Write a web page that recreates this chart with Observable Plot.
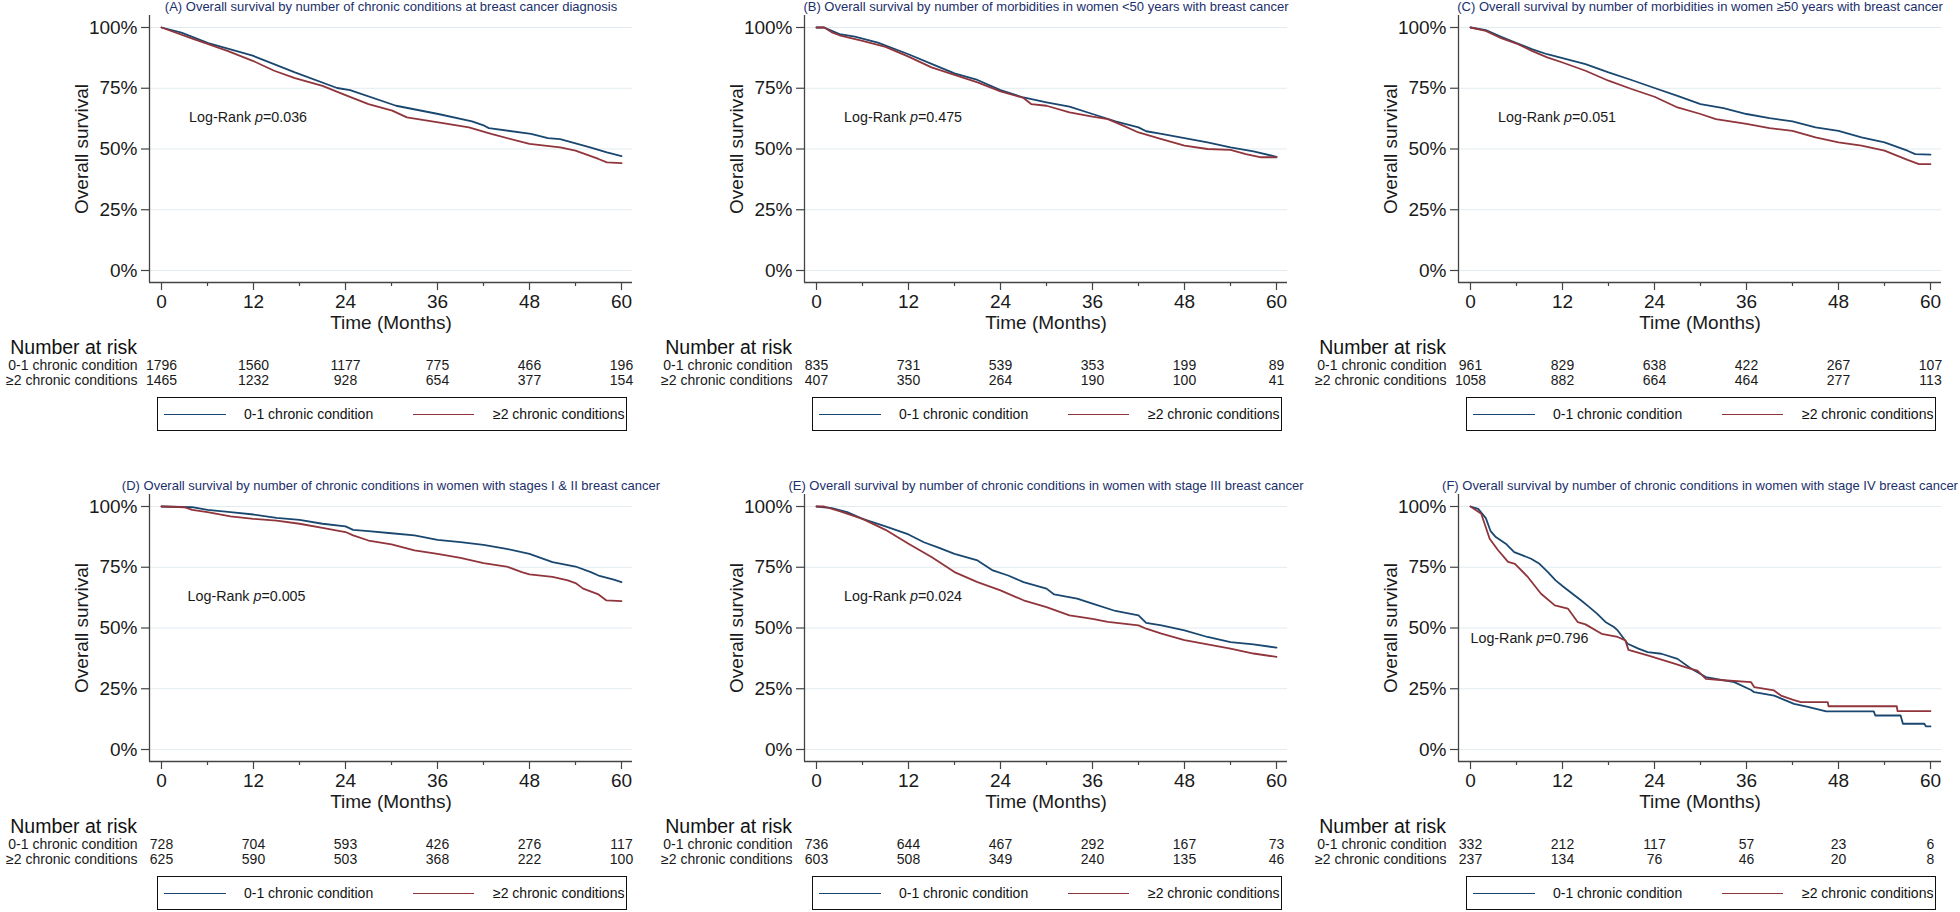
<!DOCTYPE html>
<html>
<head>
<meta charset="utf-8">
<script src="https://cdn.jsdelivr.net/npm/d3@7"></script>
<script src="https://cdn.jsdelivr.net/npm/@observablehq/plot@0.6"></script>
<style>
  html, body { margin: 0; padding: 0; background: #fff; }
  body { font-family: "Liberation Sans", Arial, sans-serif; }
  #fig { position: relative; width: 1960px; height: 912px; overflow: hidden; background: #fff; }
  .panel { position: absolute; width: 650px; height: 479px; }
  .title { position: absolute; top: 0; left: 391px; transform: translateX(-50%); white-space: nowrap;
           font-size: 13px; line-height: 13px; color: #1b2f6b; z-index: 2; }
  .mainplot { position: absolute; left: 0; top: 0; width: 650px; }
  .riskhead { position: absolute; right: 513px; top: 337px; font-size: 19.5px; line-height: 20px; color: #111; white-space: nowrap; }
  .riskplot { position: absolute; left: 0; top: 355px; width: 650px; }
  .legend { position: absolute; left: 157px; top: 397px; width: 470px; height: 34px; box-sizing: border-box;
            border: 1.4px solid #111; background: #fff; }
  .legend .ln { position: absolute; top: 15.5px; height: 0; border-top: 1.8px solid; }
  .legend .lt { position: absolute; top: 8px; font-size: 14px; line-height: 17px; color: #111; white-space: nowrap; }
</style>
</head>
<body>
<div id="fig"></div>
<script>
// ---------------- data ----------------
const groups = ["0-1 chronic condition", "\u22652 chronic conditions"];
const groupColors = ["#1a476f", "#90353b"];
const xTicks = [0, 12, 24, 36, 48, 60];
const xMinor = [6, 18, 30, 42, 54];
const yTicks = [0, 0.25, 0.5, 0.75, 1];

const titles = [
  "(A) Overall survival by number of chronic conditions at breast cancer diagnosis",
  "(B) Overall survival by number of morbidities in women <50 years with breast cancer",
  "(C) Overall survival by number of morbidities in women \u226550 years with breast cancer",
  "(D) Overall survival by number of chronic conditions in women with stages I & II breast cancer",
  "(E) Overall survival by number of chronic conditions in women with stage III breast cancer",
  "(F) Overall survival by number of chronic conditions in women with stage IV breast cancer"
];
const pValues = ["0.036", "0.475", "0.051", "0.005", "0.024", "0.796"];
// annotation anchor in data units [months, survival %]
const pAnchor = [[3.6, 63], [3.6, 63], [3.6, 63], [3.4, 63], [3.6, 63], [0, 45.7]];

// survival curves: [month, survival %]
const A_low = [[0,100],[2.6,97.9],[6.1,93.6],[11.9,88.4],[17.4,81.5],[22.9,75.1],[24.6,74.2],[30.6,67.8],[36.1,64.4],[40.5,61.4],[42.1,59.6],[42.7,58.6],[48.2,56.2],[50.4,54.5],[52,54.1],[55.9,50.7],[58.1,48.6],[60,47.1]];
const A_high = [[0,100],[4.2,95.2],[6.1,93.2],[8.6,90.4],[11.9,86.3],[14.7,82.2],[17.4,79.2],[21,76],[24,72.2],[27,68.5],[30.1,65.8],[32,63],[36.1,61],[40.1,58.9],[43,56.2],[48,52.1],[52,50.7],[54,49.3],[57,45.9],[58.1,44.5],[60,44.2]];
const B_low = [[0,100],[1,100],[3,97.3],[5,96.2],[8,93.8],[12,89],[15,85],[18,81.1],[21,78.4],[24,74.2],[27,71.2],[30,69.2],[33,67.4],[36,64.4],[39,61.4],[42,58.9],[43,57.3],[45,56.2],[48,54.5],[51,52.7],[54,50.7],[57,49],[60,46.8]];
const B_high = [[0,100],[1,100],[2,98],[3,96.8],[6,94.5],[9,92],[12,88],[15,83.6],[18,80.5],[21,77.4],[24,73.7],[27,71],[28,68.5],[30,67.8],[33,65.1],[36,63.3],[38,62.3],[40,59.6],[42,56.8],[45,54.1],[48,51.4],[51,50],[54,49.6],[56,47.9],[58,46.6],[60,46.6]];
const C_low = [[0,100],[2,98.9],[4,96.2],[6,93.6],[8,91.1],[10,89],[12,87.4],[15,84.9],[18,81.5],[21,78.4],[24,75.1],[27,71.9],[30,68.5],[33,66.8],[36,64.4],[39,62.7],[42,61.4],[45,58.9],[48,57.5],[51,54.8],[54,52.7],[57,49.3],[58,47.9],[60,47.7]];
const C_high = [[0,100],[2,98.6],[4,95.6],[6,93.4],[8,90.4],[10,87.7],[12,85.6],[15,82.2],[18,78.1],[21,74.7],[24,71.5],[27,67.1],[30,64.4],[32,62.3],[36,60.3],[39,58.6],[42,57.5],[45,54.8],[48,52.7],[51,51.4],[54,49.3],[57,45.5],[58.5,43.8],[60,43.8]];
const D_low = [[0,100],[4,99.7],[6,98.6],[9,97.7],[12,96.7],[15,95.3],[18,94.5],[21,92.9],[24,91.8],[25,90.4],[27,89.9],[30,89],[33,88.1],[36,86.3],[39,85.3],[42,84.2],[45,82.6],[48,80.5],[51,77.1],[54,75.3],[56,73],[57,71.6],[59,69.9],[60,68.9]];
const D_high = [[0,100],[3,99.7],[4,98.6],[6,97.7],[9,95.9],[12,94.9],[15,94.2],[18,92.9],[21,91.2],[24,89.5],[25,88.1],[27,86],[30,84.4],[33,81.9],[36,80.5],[39,78.9],[42,76.7],[45,75.3],[47,73],[48,72.1],[51,71],[53,69.6],[54,68.5],[55,66.2],[57,63.8],[58,61.4],[60,61.1]];
const E_low = [[0,100],[2,99.3],[4,97.7],[6,94.9],[9,91.8],[12,88.5],[14,85.3],[16,83],[18,80.5],[21,77.8],[23,73.7],[25,71.6],[27,68.9],[30,66.2],[31,63.8],[34,62.1],[36,60],[39,57],[42,55.2],[43,52.1],[45,51.1],[48,49],[51,46.3],[54,44.2],[57,43.3],[60,41.9]];
const E_high = [[0,100],[1,100],[3,98.1],[6,94.9],[9,90.4],[12,84.7],[15,79.2],[18,73],[21,68.9],[24,65.5],[27,61.4],[30,58.6],[33,55.2],[36,53.8],[38,52.5],[42,51.1],[43,49.7],[45,47.7],[48,45],[51,43.3],[54,41.5],[57,39.5],[60,38.1]];
const F_low = [[0,100],[1,99],[2,95.2],[2.6,90],[3.3,87.4],[4.6,84.7],[5.7,81.2],[6.8,79.9],[7.9,78.5],[9,76.4],[10.1,73],[11.1,69.6],[12.2,66.8],[13.3,64.1],[14.4,61.4],[15.5,58.6],[16.5,55.9],[17.6,52.5],[18.7,50.4],[19.2,49],[20.5,43.5],[21.9,41.5],[23.1,40.1],[24.9,39.4],[27,37.3],[28.8,33.2],[30.7,29.8],[34.4,27.7],[36.6,24.5],[37,23.6],[39.6,22.2],[42.2,18.8],[44,17.5],[46.4,15.7],[52.6,15.7],[52.8,14],[56.1,14],[56.4,10.6],[59.2,10.6],[59.4,9.5],[60,9.5]];
const F_high = [[0,100],[1.4,97],[2.5,86.7],[3.6,82],[4.9,77.2],[5.8,76.4],[7.5,70.9],[9.2,64.1],[11,59.3],[12.7,58],[14,52.4],[15,51.5],[17.1,47.6],[19.2,46.3],[20.2,44.9],[20.6,41],[23.1,38.7],[26.6,35.3],[28.3,33.6],[29.6,32.5],[30.7,29.1],[33,28.5],[36.6,27.7],[37,25.7],[39.6,24.3],[40.5,22.2],[42,20.5],[43.1,19.5],[46.6,19.5],[46.7,17.8],[55.6,17.8],[55.7,15.8],[60,15.8]];

// numbers at risk at months 0, 12, 24, 36, 48, 60
const A_risk = [[1796,1560,1177,775,466,196],[1465,1232,928,654,377,154]];
const B_risk = [[835,731,539,353,199,89],[407,350,264,190,100,41]];
const C_risk = [[961,829,638,422,267,107],[1058,882,664,464,277,113]];
const D_risk = [[728,704,593,426,276,117],[625,590,503,368,222,100]];
const E_risk = [[736,644,467,292,167,73],[603,508,349,240,135,46]];
const F_risk = [[332,212,117,57,23,6],[237,134,76,46,20,8]];

const curves = [[A_low, A_high],[B_low, B_high],[C_low, C_high],[D_low, D_high],[E_low, E_high],[F_low, F_high]];
const risks = [A_risk, B_risk, C_risk, D_risk, E_risk, F_risk];

// ---------------- layout ----------------
const panelPos = [[0,0],[655,0],[1309,0],[0,479],[655,479],[1309,479]];
const W = 650, H = 335;
const frameL = 149, frameR = 632, frameT = 15, frameB = 282;
const dataX0 = 161, dataX1 = 621, dataYTop = 27, dataYBot = 270;
const pxPerMonth = (dataX1 - dataX0) / 60;
const pxPerUnit = dataYBot - dataYTop;
const xDomain = [-(dataX0 - frameL) / pxPerMonth, 60 + (frameR - dataX1) / pxPerMonth];
const yDomain = [-(frameB - dataYBot) / pxPerUnit, 1 + (dataYTop - frameT) / pxPerUnit];
const FONT = '"Liberation Sans", Arial, sans-serif';
const axisColor = "#444";
const LR_WIDTH = 118; // reference width of the Log-Rank label

const fig = document.getElementById("fig");

curves.forEach((pair, i) => {
  const panel = document.createElement("div");
  panel.className = "panel";
  panel.style.left = panelPos[i][0] + "px";
  panel.style.top = panelPos[i][1] + "px";
  fig.appendChild(panel);

  const series = pair.map((pts, g) => pts.map(([t, s]) => ({t, s: s / 100, g})));
  const anno = [{t: pAnchor[i][0], s: pAnchor[i][1] / 100}];

  const main = Plot.plot({
    width: W, height: H,
    marginLeft: frameL, marginRight: W - frameR, marginTop: frameT, marginBottom: H - frameB,
    style: {fontFamily: FONT, fontSize: "19px", color: "#1a1a1a", background: "transparent", overflow: "visible"},
    x: {domain: xDomain},
    y: {domain: yDomain},
    marks: [
      Plot.gridY(yTicks, {stroke: "#e2ebf0", strokeOpacity: 1, strokeWidth: 1.2}),
      Plot.ruleX([xDomain[0]], {stroke: axisColor, strokeWidth: 1.3}),
      Plot.ruleY([yDomain[0]], {stroke: axisColor, strokeWidth: 1.3}),
      Plot.axisY(yTicks, {tickSize: 8, tickPadding: 4, stroke: axisColor, strokeWidth: 1.2,
        tickFormat: d => Math.round(d * 100) + "%",
        label: "Overall survival", labelAnchor: "center", labelOffset: 75, labelArrow: "none"}),
      Plot.axisX(xTicks, {tickSize: 8, tickPadding: 4, stroke: axisColor, strokeWidth: 1.2,
        label: "Time (Months)", labelAnchor: "center", labelOffset: 46, labelArrow: "none"}),
      Plot.axisX(xMinor, {tickSize: 4, stroke: axisColor, strokeWidth: 1.2, tickFormat: () => "", label: null}),
      Plot.line(series[0], {x: "t", y: "s", stroke: groupColors[0], strokeWidth: 1.8}),
      Plot.line(series[1], {x: "t", y: "s", stroke: groupColors[1], strokeWidth: 1.8}),
      Plot.text(anno, {x: "t", y: "s", text: () => "Log-Rank p=" + pValues[i], textAnchor: "start",
        lineAnchor: "middle", fontSize: 15, fill: "#1a1a1a", className: "logrank"})
    ]
  });
  main.classList.add("mainplot");
  panel.appendChild(main);
  main.querySelectorAll(".logrank text").forEach(t => {
    t.innerHTML = 'Log-Rank <tspan font-style="italic">p</tspan>=' + pValues[i];
    t.style.fontSize = "15px";
    const len = t.getComputedTextLength ? t.getComputedTextLength() : 0;
    if (len > 20) {
      const fs = Math.max(13, Math.min(19, 15 * LR_WIDTH / len));
      t.style.fontSize = fs.toFixed(2) + "px";
    }
  });

  const title = document.createElement("div");
  title.className = "title";
  title.textContent = titles[i];
  panel.appendChild(title);

  const head = document.createElement("div");
  head.className = "riskhead";
  head.textContent = "Number at risk";
  panel.appendChild(head);

  const riskRows = [];
  risks[i].forEach((row, g) => row.forEach((n, k) => riskRows.push({t: xTicks[k], g: groups[g], n})));
  const risk = Plot.plot({
    width: W, height: 36,
    marginLeft: frameL, marginRight: W - frameR, marginTop: 10, marginBottom: 10.5,
    style: {fontFamily: FONT, fontSize: "14px", color: "#1a1a1a", background: "transparent", overflow: "visible"},
    x: {domain: xDomain, axis: null},
    y: {type: "point", domain: groups, padding: 0},
    marks: [
      Plot.axisY({tickSize: 0, tickPadding: 12, label: null, fontSize: 14}),
      Plot.text(riskRows, {x: "t", y: "g", text: d => String(d.n), fontSize: 14, fill: "#1a1a1a"})
    ]
  });
  risk.classList.add("riskplot");
  panel.appendChild(risk);

  const leg = document.createElement("div");
  leg.className = "legend";
  leg.innerHTML =
    `<div class="ln" style="left:6px;width:62px;border-color:${groupColors[0]}"></div>` +
    `<div class="lt" style="left:86px">${groups[0]}</div>` +
    `<div class="ln" style="left:255px;width:61px;border-color:${groupColors[1]}"></div>` +
    `<div class="lt" style="left:335px">${groups[1]}</div>`;
  panel.appendChild(leg);
});
</script>
</body>
</html>
